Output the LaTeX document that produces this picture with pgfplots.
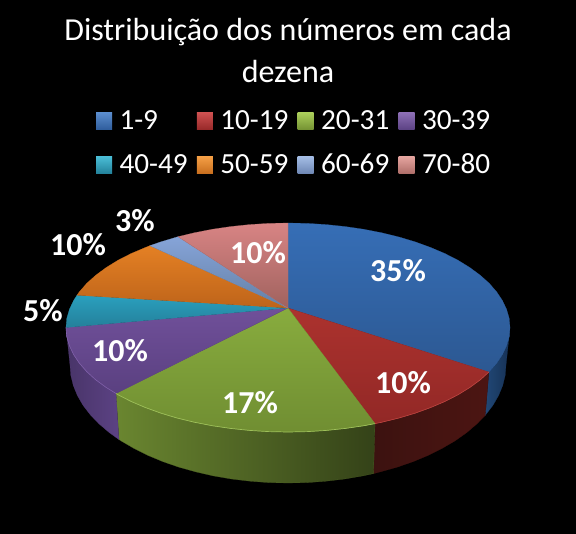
\documentclass[border=0pt]{standalone}
\usepackage{fontspec}
\setmainfont{Carlito}
\usepackage{pgfplots}
\pgfplotsset{compat=1.18}

\definecolor{blueA}{RGB}{54,110,182}\definecolor{blueB}{RGB}{44,88,146}
\definecolor{redA}{RGB}{172,50,46}\definecolor{redB}{RGB}{146,40,38}
\definecolor{greenA}{RGB}{136,172,62}\definecolor{greenB}{RGB}{112,142,50}
\definecolor{purpleA}{RGB}{112,80,154}\definecolor{purpleB}{RGB}{90,64,128}
\definecolor{cyanA}{RGB}{42,160,190}\definecolor{cyanB}{RGB}{36,128,154}
\definecolor{orangeA}{RGB}{228,128,36}\definecolor{orangeB}{RGB}{190,100,26}
\definecolor{lightA}{RGB}{134,164,216}\definecolor{lightB}{RGB}{100,128,166}
\definecolor{pinkA}{RGB}{216,132,132}\definecolor{pinkB}{RGB}{160,98,94}

\definecolor{blueL}{RGB}{33,72,118}\definecolor{blueR}{RGB}{22,48,84}
\definecolor{redL}{RGB}{60,18,16}\definecolor{redR}{RGB}{76,21,18}
\definecolor{greenL}{RGB}{106,134,48}\definecolor{greenR}{RGB}{52,66,24}
\definecolor{purpleL}{RGB}{72,52,104}\definecolor{purpleR}{RGB}{92,66,132}

% pixel coordinates of the reference, y going down
\pgfplotsset{
  keyimg/.style={legend image code/.code={
    \path[draw=none,##1] (0pt,0pt) rectangle (16pt,17pt);
  }},
  face/.style 2 args={forget plot,top color=#1,bottom color=#2,draw=#1!50!#2,line width=0.2pt},
  wall/.style 2 args={forget plot,left color=#1,right color=#2,draw=#1!50!#2,line width=0.2pt},
}
\newcommand{\pct}[3]{\node[text=white,font=\fontsize{32}{32}\selectfont\bfseries] at (axis cs:#1,#2) {#3\%};}

\begin{document}
\begin{tikzpicture}
\begin{axis}[
  scale only axis,
  width=576pt,height=534pt,
  xmin=0,xmax=576,ymin=0,ymax=534,
  y dir=reverse,
  hide axis,
  clip=false,
  title={Distribuição dos números em cada\\dezena},
  title style={at={(axis cs:288,24)},anchor=north,align=center,text=white,
    font=\fontsize{32}{42}\selectfont,inner sep=0pt},
  keyimg,
  legend columns=4,
  legend style={at={(axis cs:96,111)},anchor=north west,draw=none,fill=none,
    text=white,font=\fontsize{29.2}{30}\selectfont,inner sep=0pt,outer sep=0pt,
    row sep=23.5pt,
    nodes={inner sep=0pt,anchor=base west,text depth=0pt},
    /tikz/every even column/.append style={column sep=9.2pt},
    /tikz/every odd column/.append style={column sep=7.5pt}},
]
% background
\addplot[fill=black,draw=none,forget plot] coordinates {(0,0)(576,0)(576,534)(0,534)} -- cycle;

% side walls
\addplot[wall={blueL}{blueR}] coordinates {
(510,327.5)(509.2,336.6)(506.6,345.6)(502.4,354.5)(496.6,363.2)(488.9,372)
(485.3,415.3)(492.9,405.4)(498.6,395.5)(502.7,385.5)(505.2,375.3)(506,365)} -- cycle;
\addplot[wall={redL}{redR}] coordinates {
(488.9,372)(480.3,379.8)(469.9,387.4)(458.1,394.7)(445,401.4)(430.7,407.5)(415.3,413.1)(399,418)(381.8,422.2)(375,423.6)
(373.5,473.6)(380.1,471.9)(397,467.2)(413,461.7)(428.1,455.4)(442.1,448.4)(455,440.9)(466.6,432.7)(476.8,424)(485.3,415.3)} -- cycle;
\addplot[wall={greenL}{greenR}] coordinates {
(375,423.6)(363.9,425.7)(345.5,428.4)(326.5,430.4)(307.4,431.6)(288,432)(268.6,431.6)(249.5,430.4)(230.5,428.4)(212.1,425.7)(194.2,422.2)(177,418)(160.7,413.1)(145.3,407.5)(131,401.4)(117.9,394.7)(116,393.5)
(119,439.6)(121,440.9)(133.9,448.4)(147.9,455.4)(163,461.7)(179,467.2)(195.9,471.9)(213.4,475.9)(231.6,479)(250.2,481.2)(269,482.6)(288,483)(307,482.6)(325.8,481.2)(344.4,479)(362.6,475.9)(373.5,473.6)} -- cycle;
\addplot[wall={purpleL}{purpleR}] coordinates {
(116,393.5)(106.1,387.4)(95.7,379.8)(86.8,371.7)(79.4,363.2)(73.6,354.5)(69.4,345.6)(66.8,336.6)(66,327.5)
(70,365)(70.8,375.3)(73.3,385.5)(77.4,395.5)(83.1,405.4)(90.4,414.9)(99.2,424)(109.4,432.7)(119,439.6)} -- cycle;

% top of the pie, 35 10 17 10 5 10 3 10
\addplot[face={blueA}{blueB}] coordinates {
(288,308)(288,223)(307.4,223.4)(326.5,224.6)(345.5,226.6)(363.9,229.3)(381.8,232.8)(399,237)(415.3,241.9)(430.7,247.5)(445,253.6)(458.1,260.3)(469.9,267.6)(480.3,275.3)(489.2,283.3)(496.6,291.8)(502.4,300.5)(506.6,309.4)(509.2,318.4)(510,327.5)(509.2,336.6)(506.6,345.6)(502.4,354.5)(496.6,363.2)(488.9,372)} -- cycle;
\addplot[face={redA}{redB}] coordinates {
(288,308)(488.9,372)(480.3,379.8)(469.9,387.4)(458.1,394.7)(445,401.4)(430.7,407.5)(415.3,413.1)(399,418)(381.8,422.2)(375,423.6)} -- cycle;
\addplot[face={greenA}{greenB}] coordinates {
(288,308)(375,423.6)(363.9,425.7)(345.5,428.4)(326.5,430.4)(307.4,431.6)(288,432)(268.6,431.6)(249.5,430.4)(230.5,428.4)(212.1,425.7)(194.2,422.2)(177,418)(160.7,413.1)(145.3,407.5)(131,401.4)(117.9,394.7)(116,393.5)} -- cycle;
\addplot[face={purpleA}{purpleB}] coordinates {
(288,308)(116,393.5)(106.1,387.4)(95.7,379.8)(86.8,371.7)(79.4,363.2)(73.6,354.5)(69.4,345.6)(66.8,336.6)(66,327.5)} -- cycle;
\addplot[face={cyanA}{cyanB}] coordinates {
(288,308)(66,327.5)(66.8,318.4)(69.4,309.4)(73.6,300.5)(77,295.2)} -- cycle;
\addplot[face={orangeA}{orangeB}] coordinates {
(288,308)(77,295.2)(79.4,291.8)(86.8,283.3)(95.7,275.3)(106.1,267.6)(117.9,260.3)(131,253.6)(145.3,247.5)(149.8,245.7)} -- cycle;
\addplot[face={lightA}{lightB}] coordinates {
(288,308)(149.8,245.7)(160.7,241.9)(178,236.7)} -- cycle;
\addplot[face={pinkA}{pinkB}] coordinates {
(288,308)(178,236.7)(194.2,232.8)(212.1,229.3)(230.5,226.6)(249.5,224.6)(268.6,223.4)(288,223)} -- cycle;

% light rim along the front edge
\addplot[forget plot,draw={rgb,255:red,158;green,192;blue,90},line width=0.7pt] coordinates {
(375,423.6)(363.9,425.7)(345.5,428.4)(326.5,430.4)(307.4,431.6)(288,432)(268.6,431.6)(249.5,430.4)(230.5,428.4)(212.1,425.7)(194.2,422.2)(177,418)(160.7,413.1)(145.3,407.5)(131,401.4)(117.9,394.7)(116,393.5)};
\addplot[forget plot,draw={rgb,255:red,190;green,70;blue,66},line width=0.6pt] coordinates {
(488.9,372)(480.3,379.8)(469.9,387.4)(458.1,394.7)(445,401.4)(430.7,407.5)(415.3,413.1)(399,418)(381.8,422.2)(375,423.6)};
\addplot[forget plot,draw={rgb,255:red,128;green,96;blue,170},line width=0.6pt] coordinates {
(116,393.5)(106.1,387.4)(95.7,379.8)(86.8,371.7)(79.4,363.2)(73.6,354.5)(69.4,345.6)(66.8,336.6)(66,327.5)};

% percent labels
\pct{398}{271}{35}
\pct{403}{383}{10}
\pct{250}{403}{17}
\pct{120}{351}{10}
\pct{43}{311}{5}
\pct{78}{245}{10}
\pct{135}{221}{3}
\pct{258}{253}{10}

% legend keys
\addlegendimage{top color={rgb,255:red,90;green,140;blue,205},bottom color={rgb,255:red,46;green,92;blue,155}}
\addlegendimage{top color={rgb,255:red,205;green,80;blue,80},bottom color={rgb,255:red,150;green,40;blue,40}}
\addlegendimage{top color={rgb,255:red,170;green,205;blue,90},bottom color={rgb,255:red,115;green,145;blue,50}}
\addlegendimage{top color={rgb,255:red,140;green,110;blue,180},bottom color={rgb,255:red,90;green,65;blue,130}}
\addlegendimage{top color={rgb,255:red,75;green,190;blue,215},bottom color={rgb,255:red,35;green,130;blue,155}}
\addlegendimage{top color={rgb,255:red,245;green,160;blue,70},bottom color={rgb,255:red,200;green,110;blue,30}}
\addlegendimage{top color={rgb,255:red,165;green,190;blue,230},bottom color={rgb,255:red,110;green,135;blue,180}}
\addlegendimage{top color={rgb,255:red,230;green,165;blue,160},bottom color={rgb,255:red,175;green,110;blue,105}}
\legend{1-9,10-19,20-31,30-39,40-49,50-59,60-69,70-80}
\end{axis}
\end{tikzpicture}
\end{document}
